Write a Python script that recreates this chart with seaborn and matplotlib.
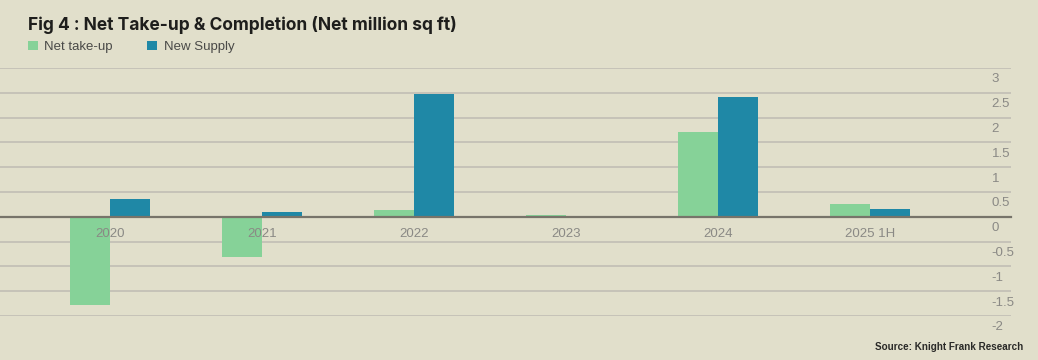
"""
Fig 4: Net take-up & completion (net million sq ft), Knight Frank style bar chart.
"""

import matplotlib.pyplot as plt
import matplotlib.transforms as mtransforms
import pandas as pd
import seaborn as sns

# Data
years = ["2020", "2021", "2022", "2023", "2024", "2025 1H"]
net_take_up = [-1.78, -0.82, 0.13, 0.03, 1.70, 0.25]
new_supply = [0.35, 0.09, 2.47, 0.0, 2.41, 0.15]
series_names = ["Net take-up", "New Supply"]
y_ticks = [3, 2.5, 2, 1.5, 1, 0.5, 0, -0.5, -1, -1.5, -2]
y_tick_labels = ["3", "2.5", "2", "1.5", "1", "0.5", "0", "-0.5", "-1", "-1.5", "-2"]

BG = "#E1DFCB"
GREEN = "#86D298"
BLUE = "#1F88A6"
GRID = "#C6C3B8"
ZERO = "#77746A"
TICK_GREY = "#8A8985"

sns.set_theme(style="white")
plt.rcParams["font.family"] = ["Liberation Sans", "DejaVu Sans"]

df = pd.DataFrame(
    {
        "year": years * 2,
        "series": [series_names[0]] * len(years) + [series_names[1]] * len(years),
        "value": net_take_up + new_supply,
    }
)

fig = plt.figure(figsize=(10.38, 3.6), dpi=100, facecolor=BG)
ax = fig.add_axes([0.0, 1 - 316 / 360, 1011 / 1038, (316 - 68) / 360])
ax.set_facecolor(BG)

sns.barplot(
    data=df,
    x="year",
    y="value",
    hue="series",
    hue_order=series_names,
    palette=[GREEN, BLUE],
    width=0.53,
    saturation=1,
    linewidth=0,
    edgecolor="none",
    ax=ax,
)

ax.set_xlim(-0.724, 5.928)
ax.set_ylim(-2, 3)
ax.set_xlabel("")
ax.set_ylabel("")

# gridlines behind the bars, axis (labels, zero line) above them
ax.grid(False)
for t in y_ticks:
    if t != 0:
        ax.axhline(t, color=GRID, lw=1.4, zorder=0.5)
ax.set_axisbelow(False)

for side in ["top", "left", "right"]:
    ax.spines[side].set_visible(False)
ax.spines["bottom"].set_position(("data", 0))
ax.spines["bottom"].set_color(ZERO)
ax.spines["bottom"].set_linewidth(1.6)

ax.tick_params(axis="x", length=0, pad=8, labelsize=9.5, labelcolor=TICK_GREY)

ax.set_yticks(y_ticks)
ax.set_yticklabels(y_tick_labels)
ax.tick_params(
    axis="y", length=0, labelleft=False, labelright=True, pad=-14,
    labelsize=9.5, labelcolor=TICK_GREY,
)
offset = mtransforms.ScaledTranslation(0, -0.1, fig.dpi_scale_trans)
for lab in ax.get_yticklabels():
    lab.set_transform(lab.get_transform() + offset)

sns.move_legend(
    ax,
    loc="center left",
    bbox_to_anchor=(28 / 1038, 1 - 47 / 360),
    bbox_transform=fig.transFigure,
    ncol=2,
    title=None,
    frameon=False,
    borderpad=0,
    borderaxespad=0,
    handlelength=0.75,
    handleheight=0.75,
    handletextpad=0.5,
    columnspacing=2.6,
    fontsize=9.5,
    labelcolor="#4A4A48",
)
for h in ax.get_legend().legend_handles:
    h.set_edgecolor("none")
    h.set_linewidth(0)

fig.text(
    28 / 1038, 1 - 30 / 360,
    "Fig 4 : Net Take-up & Completion (Net million sq ft)",
    fontsize=12.5, fontweight="bold", color="#1E1E1C", va="baseline",
    family=["Inter", "DejaVu Sans"],
)
fig.text(
    1023 / 1038, 1 - 347 / 360, "Source: Knight Frank Research",
    fontsize=7.1, color="#2A2A28", ha="right", va="center", fontweight="bold",
)

fig.savefig("out.png", dpi=100, facecolor=BG)
